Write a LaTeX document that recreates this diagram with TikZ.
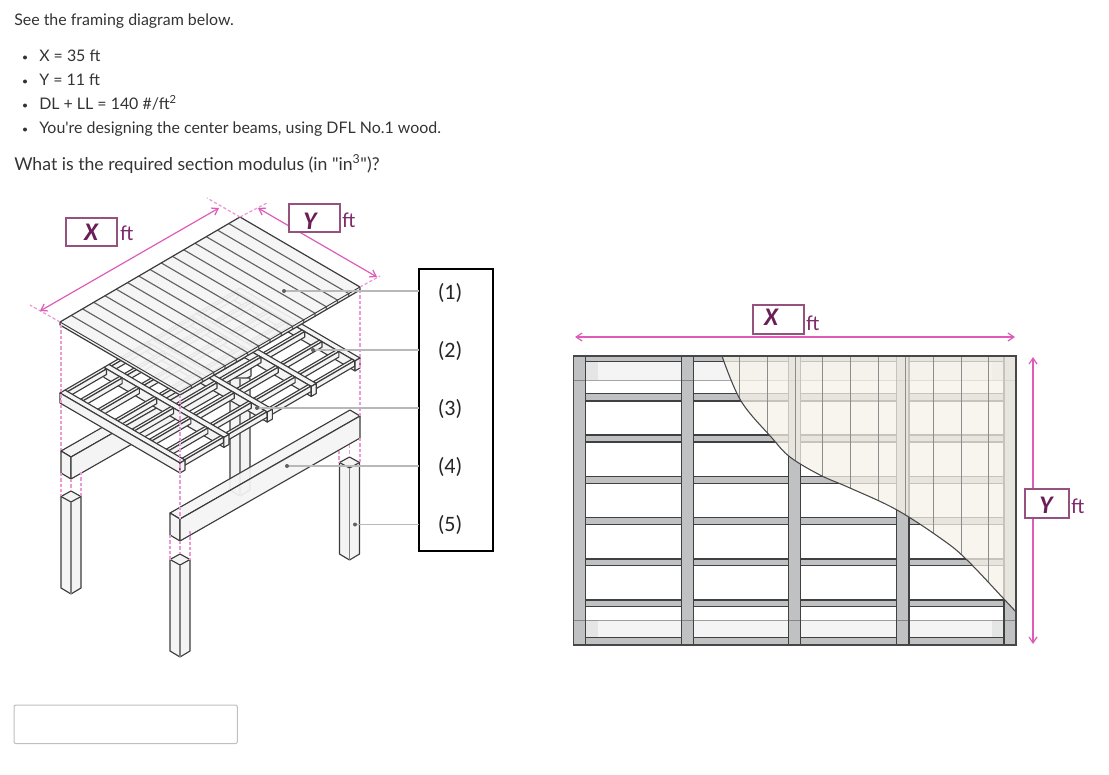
\documentclass[tikz,border=0pt]{standalone}
\usepackage{fontspec}
\setmainfont[Ligatures=TeXOff]{Lato}
\newfontfamily\labelfont{Carlito}
\usetikzlibrary{arrows.meta,calc}
\definecolor{txt}{HTML}{333333}
\definecolor{pinkdim}{HTML}{DE5CB8}
\definecolor{pinkdash}{HTML}{EC9AD6}
\definecolor{boxedge}{HTML}{96527F}
\definecolor{letter}{HTML}{6B1F58}
\definecolor{ftcol}{HTML}{7F2C6C}
\definecolor{edge}{HTML}{3C3C3C}
\definecolor{woodfill}{HTML}{F4F4F4}
\definecolor{steelgrey}{HTML}{C0C1C3}
\definecolor{beige}{HTML}{F5F2E8}
\tikzset{
  x=0.75pt,y=-0.75pt,
  wood/.style={draw=edge,fill=woodfill,line width=.85pt,line join=round},
  para/.style={anchor=base west,inner sep=0pt,text=txt,font=\fontsize{11.95}{14}\selectfont},
  bigq/.style={anchor=base west,inner sep=0pt,text=txt,font=\fontsize{13.25}{15}\selectfont},
  bulletdot/.style={fill=txt,draw=none},
  dimbox/.style={draw=boxedge,fill=white,line width=1.5pt,inner sep=0pt,outer sep=0pt},
  dimletter/.style={text=letter,font=\labelfont\fontsize{19}{20}\bfseries\itshape\selectfont,inner sep=0pt},
  ftlabel/.style={text=ftcol,font=\labelfont\fontsize{16}{18}\selectfont,inner sep=0pt},
  dimline/.style={draw=pinkdim,line width=.9pt,{Straight Barb[length=4.5pt,width=6pt]}-{Straight Barb[length=4.5pt,width=6pt]}},
  pinkdashes/.style={draw=pinkdash,line width=.95pt,dash pattern=on 2.4pt off 1.6pt},
  leader/.style={draw=black!28,line width=.9pt},
  leaderdot/.style={fill=black!62,draw=none},
  numlabel/.style={text=black!85,font=\labelfont\fontsize{16.5}{18}\selectfont,inner sep=0pt},
  steel/.style={fill=steelgrey,draw=black!75,line width=1pt},
  planline/.style={draw=black!45,line width=.75pt},
}
\newcommand{\PP}[3]{({60+180*(#1)+120*(#2)},{393-105*(#1)+70*(#2)+(#3)})}
% framing girder: a-position of its near side
\newcommand{\girder}[1]{%
  \pgfmathsetmacro{\aE}{#1+0.028}%
  \draw[wood] \PP{#1}{0}{0} -- \PP{\aE}{0}{0} -- \PP{\aE}{1}{0} -- \PP{#1}{1}{0} -- cycle;
  \draw[wood] \PP{#1}{0}{0} -- \PP{#1}{1}{0} -- \PP{#1}{1}{10} -- \PP{#1}{0}{10} -- cycle;
  \draw[wood] \PP{#1}{1}{0} -- \PP{\aE}{1}{0} -- \PP{\aE}{1}{10} -- \PP{#1}{1}{10} -- cycle;
}
% one bay of joists between two a-positions
\newcommand{\joistbay}[2]{%
  \foreach \b in {0,.13,.273,.418,.559,.703,.844,.975}{%
    \pgfmathsetmacro{\bE}{\b+0.022}%
    \draw[wood] \PP{#1}{\b}{0} -- \PP{#2}{\b}{0} -- \PP{#2}{\bE}{0} -- \PP{#1}{\bE}{0} -- cycle;
    \draw[wood] \PP{#1}{\bE}{0} -- \PP{#2}{\bE}{0} -- \PP{#2}{\bE}{5.5} -- \PP{#1}{\bE}{5.5} -- cycle;
  }%
}
% large timber beam along X; args x0,y0 and fill opacity
\newcommand{\bigbeam}[3]{%
  \draw[wood,fill opacity=#3] (#1,#2) -- ({#1+10},{#2+6}) -- ({#1+190},{#2-97}) -- ({#1+180},{#2-103}) -- cycle;
  \draw[wood,fill opacity=#3] (#1,#2) -- ({#1+10},{#2+6}) -- ({#1+10},{#2+28}) -- (#1,{#2+22}) -- cycle;
  \draw[wood,fill opacity=#3] ({#1+10},{#2+6}) -- ({#1+190},{#2-97}) -- ({#1+190},{#2-75}) -- ({#1+10},{#2+28}) -- cycle;
}
% post: centre x, top of its head, lowest point
\newcommand{\post}[3]{%
  \draw[wood] ({#1-10},{#2+5.5}) -- (#1,#2) -- ({#1+10},{#2+5.5}) -- ({#1+10},{#3-6}) -- (#1,#3) -- ({#1-10},{#3-6}) -- cycle;
  \draw[draw=edge,line width=.85pt] ({#1-10},{#2+5.5}) -- (#1,{#2+11}) -- ({#1+10},{#2+5.5});
  \draw[draw=black!50,line width=.9pt] (#1,{#2+11}) -- (#1,#3);
}
\begin{document}
\begin{tikzpicture}
\useasboundingbox (0,0) rectangle (1109,774);
% ---- text ----
\node[para] (t0) at (14,25.5) {See the framing diagram below.};
\node[para] (t1) at (39,61) {X = 35 ft};
\node[para] (t2) at (39,85) {Y = 11 ft};
\node[para] (t3) at (39,109) {DL + LL = 140 \#/ft\textsuperscript{2}};
\node[para] (t4) at (39,133) {You're designing the center beams, using DFL No.1 wood.};
\foreach \y in {57.5,81.5,105.5,129.5} \fill[bulletdot] (25,\y) circle (2);
\node[bigq] (t5) at (14,170) {What is the required section modulus (in "in\textsuperscript{3}")?};
\node[draw=black!25,rounded corners=1.5pt,line width=.75pt,outer sep=0pt,minimum width=167.5pt,minimum height=29pt,inner sep=0pt,anchor=north west] (answer) at (14,705) {};

% ---- isometric: rear beam, centre post ----
\bigbeam{61}{451}{1}
\draw[wood] (230,378) -- (250,378) -- (250,490) -- (240,496) -- (230,490) -- cycle;
\draw[draw=black!50,line width=.9pt] (240,378) -- (240,496);
% ---- framing, back to front ----
\girder{.972}
\joistbay{.757}{.972}
\girder{.729}
\joistbay{.513}{.729}
\girder{.485}
\joistbay{.272}{.485}
\girder{.244}
\joistbay{.028}{.244}
\girder{0}
% ---- front beam and posts ----
\bigbeam{170}{513}{.93}
\post{71}{491}{594}
\post{180}{554}{657}
\post{349.5}{457}{560}
% ---- deck ----
\coordinate (dL) at (60,322);
\coordinate (dT) at (240,217);
\coordinate (dR) at (360,287);
\coordinate (dB) at (180,392);
\fill[woodfill,fill opacity=.93] (dL) -- (dT) -- (dR) -- ($(dR)+(0,3)$) -- ($(dB)+(0,3)$) -- ($(dL)+(0,3)$) -- cycle;
\foreach \k in {1,...,15}
  \draw[draw=black!62,line width=.85pt] ($(dL)!\k/16!(dT)$) -- ($(dB)!\k/16!(dR)$) -- ++(0,3);
\draw[draw=edge,line width=.9pt,line join=round] (dL) -- (dT) -- (dR) -- ($(dR)+(0,3)$) -- ($(dB)+(0,3)$) -- ($(dL)+(0,3)$) -- cycle;
\draw[draw=edge,line width=.7pt] (dL) -- (dB) -- (dR);

% ---- pink construction lines ----
\foreach \x/\ya/\yb in {61/325/450,61/473/496,71/479/491,81/472/496,180/395/518,180/541/554,170/535/560,190/531/560,360/290/416,360/438/462,349.5/445/457,339/451/462}
  \draw[pinkdashes] (\x,\ya) -- (\x,\yb);
\draw[pinkdashes] (dL) -- (30,305);
\draw[pinkdashes] (dT) -- (207,198);
\draw[pinkdashes] (dT) -- (267,203);
\draw[pinkdashes] (dR) -- (380,276);
\coordinate (xa) at (40,311);
\coordinate (xb) at (219,208);
\coordinate (ya) at (258,208);
\coordinate (yb) at (377,277);
\draw[dimline] (xa) -- (xb);
\draw[dimline] (ya) -- (yb);
\node[dimbox,minimum width=38.5pt,minimum height=21.5pt,anchor=north west] (xbox) at (65.5,217.5) {};
\node[dimletter] (xlet) at (91,232.5) {X};
\node[ftlabel,anchor=west] (xft) at (120,233) {ft};
\node[dimbox,minimum width=38.5pt,minimum height=21.5pt,anchor=north west] (ybox) at (288.5,203.5) {};
\node[dimletter] (ylet) at (310,221) {Y};
\node[ftlabel,anchor=west] (yft) at (342,220.5) {ft};

% ---- numbered box and leaders ----
\node[draw=black,fill=white,line width=1.5pt,outer sep=0pt,minimum width=55.5pt,minimum height=212pt,inner sep=0pt,anchor=north west] (legend) at (418.5,268.5) {};
\node[numlabel] (n1) at (450,293) {(1)};
\node[numlabel] (n2) at (450,351) {(2)};
\node[numlabel] (n3) at (450,409) {(3)};
\node[numlabel] (n4) at (450,467) {(4)};
\node[numlabel] (n5) at (450,525) {(5)};
\coordinate (d1) at (284,291);
\coordinate (d2) at (313,350);
\coordinate (d3) at (257,408);
\coordinate (d4) at (287,466);
\coordinate (d5) at (355,524.5);
\foreach \d in {d1,d2,d3,d4,d5}{
  \draw[leader] (\d) -- (\d -| legend.west);
  \fill[leaderdot] (\d) circle (2);
}

% ---- plan view ----
% light bands
\foreach \ya/\yb in {362/380,620/638}{
  \fill[woodfill] (586,\ya) rectangle (1004,\yb);
  \fill[black!10] (586,\ya) rectangle (598,\yb);
  \fill[black!10] (992,\ya) rectangle (1004,\yb);
}
% joists
\foreach \ya/\yb in {356/361.7,393.7/401,435/442,476.7/483.3,517.3/524.3,559/565.7,600/606.7,637.7/645}
  \draw[steel] (573.3,\ya) rectangle (1016,\yb);
% columns
\foreach \xa in {573.3,681.3,788.3,896.5,1004}
  \draw[steel] (\xa,356) rectangle ({\xa+12.4},645);
% bands seen through
\draw[draw=black!70,line width=.7pt,opacity=.5] (573.3,380) -- (1016,380);
\draw[draw=black!70,line width=.7pt,opacity=.5] (573.3,620) -- (1016,620);
% deck overlay
\def\sweep{(722,356) (741,401) (772,438) (790,457) (820,475) (850,488) (897,510) (943,540) (967,560) (1003,598) (1016,612)}
\fill[beige,fill opacity=.74] plot[smooth,tension=.6] coordinates {\sweep} -- (1016,356) -- cycle;
\begin{scope}
  \clip plot[smooth,tension=.6] coordinates {\sweep} -- (1016,356) -- cycle;
  \foreach \x in {739.5,767,795,822.5,850,878,905,933,961,988}
    \draw[planline] (\x,356) -- (\x,645);
\end{scope}
\draw[draw=black!72,line width=.8pt] plot[smooth,tension=.6] coordinates {\sweep};
\draw[draw=black!72,line width=.9pt] (573.3,356) -- (1016,356) -- (1016,645) -- (573.3,645) -- cycle;
% dimensions
\coordinate (pxa) at (575,337);
\coordinate (pxb) at (1015,337);
\coordinate (pya) at (1033,357);
\coordinate (pyb) at (1033,644);
\draw[dimline] (pxa) -- (pxb);
\draw[dimline] (pya) -- (pyb);
\node[dimbox,minimum width=38.5pt,minimum height=21.5pt,anchor=north west] (pxbox) at (752.5,305) {};
\node[dimletter] (pxlet) at (771,317.5) {X};
\node[ftlabel,anchor=west] (pxft) at (806,323) {ft};
\node[dimbox,minimum width=32.5pt,minimum height=21.5pt,anchor=north west] (pybox) at (1025.3,489) {};
\node[dimletter] (pylet) at (1046,505.5) {Y};
\node[ftlabel,anchor=west] (pyft) at (1071,506) {ft};
\end{tikzpicture}
\end{document}
